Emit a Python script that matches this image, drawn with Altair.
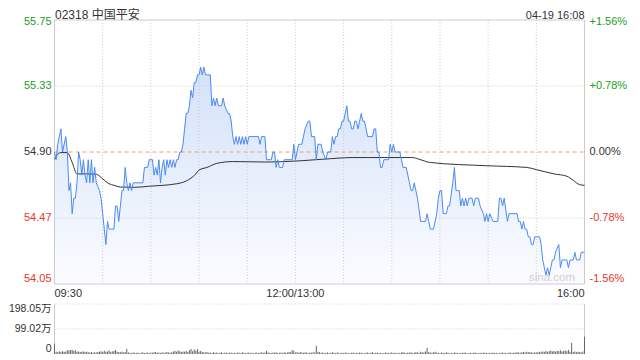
import altair as alt
import pandas as pd

# ---------------- data ----------------
price_min = [0, 1, 2, 3, 4, 5, 7, 8, 9, 10, 11, 12, 13, 14, 15, 16, 17, 18, 19, 20,
             21, 22, 23, 24, 25, 26, 28, 29, 30, 31, 32, 33, 34, 35, 37, 38, 39, 40, 41, 42,
             43, 44, 45, 46, 47, 48, 49, 55, 56, 57, 58, 59, 61, 62, 63, 64, 65, 66, 67, 68,
             69, 70, 71, 72, 73, 74, 75, 76, 77, 78, 79, 80, 81, 82, 83, 84, 85, 86, 87, 88,
             89, 90, 91, 92, 93, 94, 97, 98, 99, 100, 101, 102, 104, 105, 106, 108, 109, 110, 111, 112,
             113, 114, 115, 116, 117, 118, 119, 120, 121, 127, 128, 129, 131, 132, 135, 136, 137, 138, 139, 140,
             142, 143, 148, 149, 150, 151, 152, 154, 156, 158, 159, 160, 162, 163, 164, 166, 167, 169, 170, 172,
             173, 174, 175, 176, 177, 178, 179, 180, 181, 182, 183, 184, 185, 186, 187, 188, 189, 191, 192, 193,
             194, 195, 198, 199, 200, 201, 202, 203, 204, 205, 208, 209, 210, 211, 212, 215, 216, 217, 219, 221,
             222, 223, 224, 225, 226, 228, 231, 232, 233, 234, 236, 238, 239, 240, 241, 242, 244, 245, 246, 248,
             249, 250, 251, 252, 253, 254, 255, 256, 257, 258, 260, 261, 262, 264, 265, 267, 268, 269, 270, 271,
             273, 276, 277, 278, 279, 280, 282, 283, 288, 289, 290, 291, 292, 293, 294, 295, 296, 297, 298, 299,
             302, 303, 304, 305, 306, 307, 308, 310, 311, 312, 314, 315, 316, 319, 320, 321, 323, 324, 325, 327,
             328, 330]
price_val = [54.90, 54.85, 54.95, 55.00, 55.05, 54.90, 55.00, 54.90, 54.65, 54.70, 54.50, 54.60, 54.60, 54.70, 54.90, 54.85, 54.75, 54.85, 54.75, 54.70,
             54.85, 54.70, 54.85, 54.70, 54.80, 54.70, 54.65, 54.60, 54.50, 54.40, 54.30, 54.45, 54.40, 54.40, 54.40, 54.55, 54.55, 54.45, 54.55, 54.65,
             54.65, 54.80, 54.70, 54.65, 54.70, 54.65, 54.70, 54.70, 54.80, 54.80, 54.80, 54.85, 54.85, 54.75, 54.80, 54.75, 54.85, 54.70, 54.80, 54.85,
             54.75, 54.85, 54.80, 54.85, 54.80, 54.85, 54.80, 54.85, 54.85, 54.90, 54.90, 54.95, 55.05, 55.15, 55.15, 55.20, 55.30, 55.25, 55.35, 55.35,
             55.40, 55.40, 55.45, 55.40, 55.45, 55.40, 55.40, 55.20, 55.25, 55.20, 55.25, 55.20, 55.20, 55.25, 55.20, 55.15, 55.15, 55.10, 55.00, 54.95,
             55.00, 54.95, 55.00, 54.95, 55.00, 54.95, 55.00, 54.95, 55.00, 55.00, 54.95, 55.00, 55.00, 54.85, 54.85, 54.90, 54.90, 54.80, 54.85, 54.80,
             54.80, 54.85, 54.85, 54.95, 54.85, 54.90, 54.95, 54.95, 55.05, 55.10, 55.10, 55.00, 55.00, 54.85, 54.95, 54.95, 54.90, 54.85, 54.90, 54.90,
             55.00, 54.95, 55.00, 55.00, 55.05, 55.05, 55.10, 55.10, 55.15, 55.20, 55.10, 55.10, 55.05, 55.05, 55.10, 55.10, 55.05, 55.15, 55.10, 55.10,
             55.05, 55.00, 55.00, 55.05, 55.05, 54.90, 54.90, 54.80, 54.80, 54.85, 54.85, 54.95, 54.90, 54.95, 54.90, 54.90, 54.85, 54.80, 54.80, 54.70,
             54.65, 54.65, 54.70, 54.65, 54.60, 54.45, 54.45, 54.50, 54.45, 54.40, 54.40, 54.50, 54.60, 54.65, 54.65, 54.50, 54.50, 54.55, 54.55, 54.70,
             54.80, 54.65, 54.65, 54.65, 54.55, 54.60, 54.55, 54.60, 54.55, 54.60, 54.60, 54.55, 54.60, 54.60, 54.55, 54.50, 54.45, 54.50, 54.45, 54.50,
             54.45, 54.45, 54.60, 54.60, 54.55, 54.60, 54.45, 54.50, 54.50, 54.45, 54.45, 54.40, 54.45, 54.40, 54.40, 54.35, 54.35, 54.30, 54.30, 54.35,
             54.35, 54.30, 54.20, 54.15, 54.10, 54.15, 54.10, 54.20, 54.20, 54.25, 54.30, 54.15, 54.20, 54.20, 54.15, 54.20, 54.20, 54.25, 54.20, 54.20,
             54.25, 54.25]

avg_min = [0, 2, 4, 8, 11, 14, 20, 26, 30, 34, 37, 41, 50, 59, 76, 82, 88, 90, 95, 101,
           111, 132, 153, 167, 186, 223, 227, 234, 269, 294, 300, 311, 319, 323, 327, 330]
avg_val = [54.853, 54.885, 54.896, 54.896, 54.832, 54.758, 54.758, 54.756, 54.726, 54.694,
           54.684, 54.673, 54.671, 54.678, 54.694, 54.712, 54.758, 54.783, 54.800, 54.826,
           54.838, 54.835, 54.843, 54.853, 54.864, 54.864, 54.853, 54.832, 54.811, 54.800,
           54.786, 54.758, 54.743, 54.716, 54.688, 54.684]

# volume per minute (万股)
volume = [41, 9, 8, 10, 9, 11, 8, 10, 15, 14,
          16, 17, 12, 15, 9, 10, 8, 9, 10, 8,
          9, 7, 6, 8, 5, 7, 6, 8, 9, 11,
          8, 13, 9, 10, 14, 8, 10, 12, 16, 9,
          8, 7, 9, 6, 8, 20, 6, 5, 4, 6,
          5, 4, 6, 3, 5, 7, 4, 5, 6, 4,
          6, 5, 7, 8, 5, 6, 4, 7, 5, 6,
          8, 6, 5, 7, 10, 12, 9, 14, 11, 8,
          10, 9, 12, 8, 15, 20, 11, 18, 13, 20,
          9, 12, 8, 7, 6, 8, 5, 6, 4, 7,
          5, 6, 4, 5, 7, 3, 5, 6, 4, 5,
          6, 4, 5, 3, 6, 5, 4, 7, 5, 4,
          5, 6, 4, 5, 3, 5, 6, 4, 5, 7,
          5, 6, 12, 6, 5, 4, 6, 5, 7, 4,
          5, 6, 4, 7, 5, 6, 8, 7, 16, 12,
          6, 7, 5, 8, 6, 5, 7, 6, 4, 6,
          5, 7, 6, 32, 9, 7, 5, 6, 4, 5,
          6, 4, 5, 7, 5, 4, 6, 5, 3, 5,
          4, 6, 5, 4, 3, 5, 6, 4, 5, 4,
          6, 5, 4, 3, 5, 6, 4, 5, 7, 4,
          5, 6, 4, 5, 3, 4, 6, 5, 4, 5,
          6, 4, 5, 3, 5, 4, 6, 8, 5, 4,
          6, 5, 7, 4, 5, 8, 6, 5, 9, 7,
          6, 10, 24, 8, 6, 5, 7, 9, 6, 5,
          4, 6, 5, 4, 7, 5, 3, 5, 4, 6,
          5, 4, 3, 5, 4, 6, 5, 3, 4, 5,
          4, 5, 6, 4, 3, 5, 4, 6, 5, 4,
          3, 5, 4, 6, 4, 5, 3, 4, 5, 6,
          4, 5, 3, 6, 5, 4, 6, 5, 7, 6,
          5, 7, 8, 6, 9, 7, 8, 6, 5, 7,
          6, 8, 7, 9, 10, 8, 12, 9, 11, 14,
          10, 12, 9, 13, 11, 15, 10, 12, 14, 11,
          16, 9, 44, 8, 10, 7, 9, 8, 6, 10,
          68]

prev_close = 54.90
price_ticks = [55.756, 55.328, 54.90, 54.472, 54.044]
price_labels = ["55.75", "55.33", "54.90", "54.47", "54.05"]
pct_labels = ["+1.56%", "+0.78%", "0.00%", "-0.78%", "-1.56%"]
time_ticks = [0, 150, 330]
time_labels = ["09:30", "12:00/13:00", "16:00"]
grid_minutes = [30, 60, 90, 120, 150, 180, 210, 240, 270, 300]
vol_ticks = [198.05, 99.02, 0]
vol_labels = ["198.05万", "99.02万", "0"]
title_text = "02318 中国平安"
stamp_text = "04-19 16:08"

# ---------------- layout ----------------
W = 530
PH = 264.0             # price panel height
VT, VB = 284.0, 334.0  # volume panel top / bottom
H = 334.5
Y_LO, Y_HI = price_ticks[-1], price_ticks[0]
FONT = "Liberation Sans, Arial, Noto Sans CJK SC, sans-serif"
GREEN, RED, DARK = "#1ca01c", "#e8372a", "#333333"

xs = alt.Scale(domain=[0, 330], nice=False, zero=False)
ps = alt.Scale(domain=[Y_LO, Y_HI], range=[PH, 0], nice=False, zero=False)
vs = alt.Scale(domain=[0, vol_ticks[0]], range=[VB, VT], nice=False, zero=False)

price_df = pd.DataFrame({"m": price_min, "p": price_val})
avg_df = pd.DataFrame({"m": avg_min, "p": avg_val})
vol_df = pd.DataFrame({"m": list(range(len(volume))), "v": volume})
grid_df = pd.DataFrame({"m": grid_minutes})
hgrid_df = pd.DataFrame({"p": [price_ticks[1], price_ticks[3]]})
prev_df = pd.DataFrame({"p": [prev_close]})
lab_df = pd.DataFrame({"p": price_ticks, "l": price_labels, "r": pct_labels})
time_df = pd.DataFrame({"m": time_ticks, "l": time_labels})
vlab_df = pd.DataFrame({"v": vol_ticks, "l": vol_labels})
one = pd.DataFrame({"a": [0]})

X = alt.X("m:Q", scale=xs, axis=None)
YP = alt.Y("p:Q", scale=ps, axis=None)

grad = alt.Gradient(
    gradient="linear",
    stops=[alt.GradientStop(color="#fbfcff", offset=0),
           alt.GradientStop(color="#d3e1f8", offset=1)],
    x1=1, x2=1, y1=1, y2=0,
)

area = alt.Chart(price_df).mark_area(color=grad).encode(x=X, y=YP, y2=alt.Y2Datum(Y_LO))
vgrid = alt.Chart(grid_df).mark_rule(color="#cccccc", strokeDash=[1, 2]).encode(
    x=X, y=alt.YDatum(Y_HI, scale=ps, axis=None), y2=alt.Y2Datum(Y_LO))
hgrid = alt.Chart(hgrid_df).mark_rule(color="#cccccc", strokeDash=[1, 2]).encode(
    y=YP, x=alt.XDatum(0, scale=xs, axis=None), x2=alt.X2Datum(330))
prev = alt.Chart(prev_df).mark_rule(color="#f0a070", strokeDash=[4, 3]).encode(
    y=YP, x=alt.XDatum(0, scale=xs, axis=None), x2=alt.X2Datum(330))
frame = alt.Chart(one).mark_rect(fill="transparent", stroke="#cccccc", strokeWidth=1).encode(
    x=alt.XDatum(0, scale=xs, axis=None), x2=alt.X2Datum(330),
    y=alt.YDatum(Y_HI, scale=ps, axis=None), y2=alt.Y2Datum(Y_LO))
line = alt.Chart(price_df).mark_line(color="#4a8af4", strokeWidth=1).encode(x=X, y=YP)
avg = alt.Chart(avg_df).mark_line(color="#333333", strokeWidth=1, interpolate="monotone").encode(x=X, y=YP)

pcolor = alt.when(alt.datum.p > 54.91).then(alt.value(GREEN)).when(
    alt.datum.p < 54.89).then(alt.value(RED)).otherwise(alt.value(DARK))


def ptext(df, field, xpix, align, baseline, dy):
    return alt.Chart(df).mark_text(font=FONT, fontSize=11, align=align, baseline=baseline, dy=dy).encode(
        x=alt.value(xpix), y=YP, text=f"{field}:N", color=pcolor)


left_top = ptext(lab_df.iloc[[0]], "l", -3, "right", "top", -4)
left_mid = ptext(lab_df.iloc[1:4], "l", -3, "right", "middle", 0)
left_bot = ptext(lab_df.iloc[[4]], "l", -3, "right", "bottom", 0)
right_top = ptext(lab_df.iloc[[0]], "r", W + 5, "left", "top", -4)
right_mid = ptext(lab_df.iloc[1:4], "r", W + 5, "left", "middle", 0)
right_bot = ptext(lab_df.iloc[[4]], "r", W + 5, "left", "bottom", 0)


def ttext(df, align):
    return alt.Chart(df).mark_text(font=FONT, fontSize=11, align=align, baseline="middle", color=DARK).encode(
        x=X, y=alt.value(PH + 9.5), text="l:N")


t0 = ttext(time_df.iloc[[0]], "left")
t1 = ttext(time_df.iloc[[1]], "center")
t2 = ttext(time_df.iloc[[2]], "right")

title = alt.Chart(one).mark_text(font=FONT, fontSize=12, align="left", baseline="alphabetic",
                                 color=DARK, text=title_text).encode(x=alt.value(0.5), y=alt.value(-1))
stamp = alt.Chart(one).mark_text(font=FONT, fontSize=11, align="right", baseline="alphabetic",
                                 color=DARK, text=stamp_text).encode(x=alt.value(W), y=alt.value(-1.5))
sina = alt.Chart(one).mark_text(font=FONT, fontSize=11.5, align="center", baseline="middle",
                                color="#cfcfcf", text="sina.com").encode(x=alt.value(497.5), y=alt.value(PH - 6))

# volume panel
YV = alt.Y("v:Q", scale=vs, axis=None)
bars = alt.Chart(vol_df).mark_rule(color="#666666", strokeWidth=1).encode(x=X, y=YV, y2=alt.Y2Datum(0))
vgrid2 = alt.Chart(pd.DataFrame({"v": vol_ticks[:2]})).mark_rule(color="#cccccc", strokeDash=[1, 2]).encode(
    y=YV, x=alt.XDatum(0, scale=xs, axis=None), x2=alt.X2Datum(330))
vside = alt.Chart(pd.DataFrame({"m": [0, 330]})).mark_rule(color="#cccccc").encode(
    x=X, y=alt.YDatum(vol_ticks[0], scale=vs, axis=None), y2=alt.Y2Datum(0))


def vtext(df, baseline):
    return alt.Chart(df).mark_text(font=FONT, fontSize=10.5, align="right", baseline=baseline, color=DARK).encode(
        x=alt.value(-3), y=YV, text="l:N")


v0 = vtext(vlab_df.iloc[[0]], "top")
v1 = vtext(vlab_df.iloc[[1]], "middle")
v2 = vtext(vlab_df.iloc[[2]], "bottom")

chart = alt.layer(
    area, vgrid, hgrid, prev, frame, avg, line,
    left_top, left_mid, left_bot, right_top, right_mid, right_bot,
    t0, t1, t2, title, stamp, sina,
    vgrid2, vside, bars, v0, v1, v2,
).resolve_scale(y="independent").properties(
    width=W, height=H,
    autosize=alt.AutoSizeParams(type="none"),
    padding={"left": 46.5, "top": 12, "right": 47.5, "bottom": 2},
).configure_view(stroke=None)

chart.save("out.html", embed_options={"renderer": "svg", "actions": False})
